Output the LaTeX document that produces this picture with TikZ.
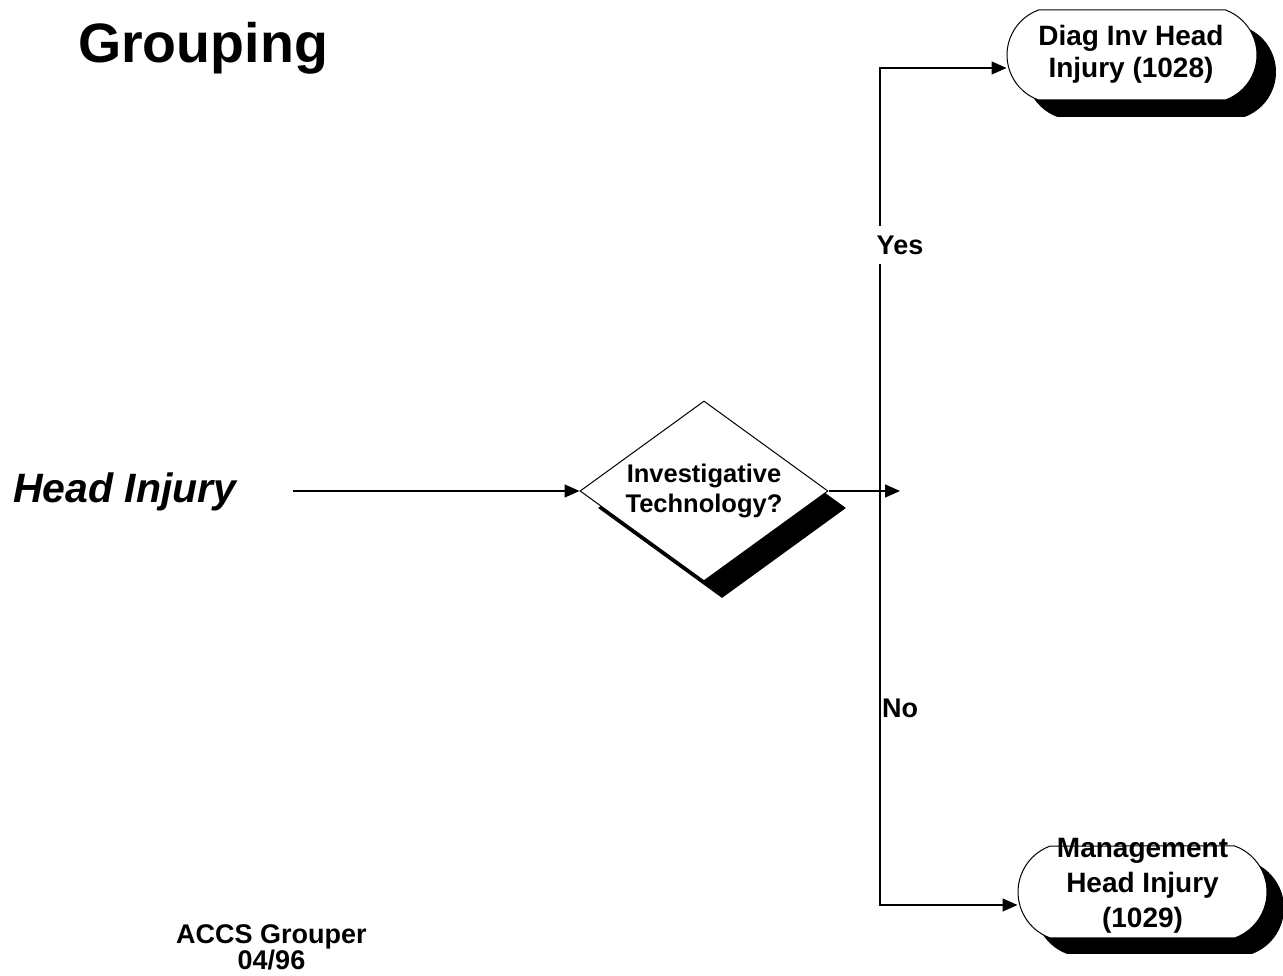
\documentclass[tikz,border=0pt]{standalone}
\usepackage{fontspec}
\setmainfont{Liberation Sans}
\usetikzlibrary{shapes.geometric,shapes.misc,arrows.meta}
\begin{document}
\begin{tikzpicture}[x=1pt,y=1pt,
  conn/.style={line width=1.5pt},
  arr/.style={conn,-{Triangle[length=15pt,width=13pt]}},
  decision/.style={diamond,draw,line width=1pt,fill=white,minimum width=248pt,minimum height=180pt,inner sep=0pt,aspect=1.378,align=center,font=\fontsize{25.5}{30}\selectfont\bfseries},
  decshadow/.style={diamond,fill=black,minimum width=248pt,minimum height=180pt,inner sep=0pt,aspect=1.378},
  term/.style={rounded rectangle,rounded rectangle arc length=140,draw,line width=1pt,fill=white,minimum width=250pt,minimum height=90pt,inner sep=0pt},
  termshadow/.style={rounded rectangle,rounded rectangle arc length=140,fill=black,minimum width=250pt,minimum height=90pt,inner sep=0pt},
  termtext/.style={align=center,font=\fontsize{28}{32}\selectfont\bfseries},
  lbl/.style={font=\fontsize{27}{32}\selectfont\bfseries}]
\fill[white] (0,0) rectangle (1283,975);
\useasboundingbox (0,0) rectangle (1283,975);

% title and side texts
\node[font=\fontsize{55.5}{60}\selectfont\bfseries, anchor=base west, inner sep=0pt] (title) at (78,912) {Grouping};
\node[font=\fontsize{41}{48}\selectfont\bfseries\itshape, anchor=base west, inner sep=0pt] (head) at (13,472) {Head Injury};
\node[align=center, font=\fontsize{27}{25}\selectfont\bfseries] (accs) at (271.5,28) {ACCS Grouper\\04/96};

% decision
\node[decshadow] (ds) at (722,467) {};
\node[decision] (d) at (704,484) {Investigative\\Technology?};

% terminals
\node[termshadow] (t1s) at (1151,903) {};
\node[term] (t1) at (1132,920) {};
\node[termtext] (t1t) at (1131,921) {Diag Inv Head\\Injury (1028)};

\node[termshadow, minimum width=249pt, minimum height=92pt] (t2s) at (1159.5,67) {};
\node[term, minimum width=249pt, minimum height=92pt] (t2) at (1142.5,83) {};
\node[termtext, font=\fontsize{28}{35}\selectfont\bfseries] (t2t) at (1142.5,89) {Management\\Head Injury\\(1029)};

% connectors
\coordinate (hs) at (293,484);
\coordinate (tip) at (900,484);
\coordinate (j) at (880,484);
\draw[arr] (hs) -- (d.west);
\draw[arr] (d.east) -- (tip);
\draw[arr] (j) |- ([yshift=-13pt]t1.west);
\draw[arr] (j) |- ([yshift=-13pt]t2.west);

% branch labels
\node[lbl, fill=white, inner xsep=2pt, inner ysep=10pt] (yes) at (900,730) {Yes};
\node[lbl, anchor=base west, inner sep=0pt] (no) at (882,257) {No};
\end{tikzpicture}
\end{document}
